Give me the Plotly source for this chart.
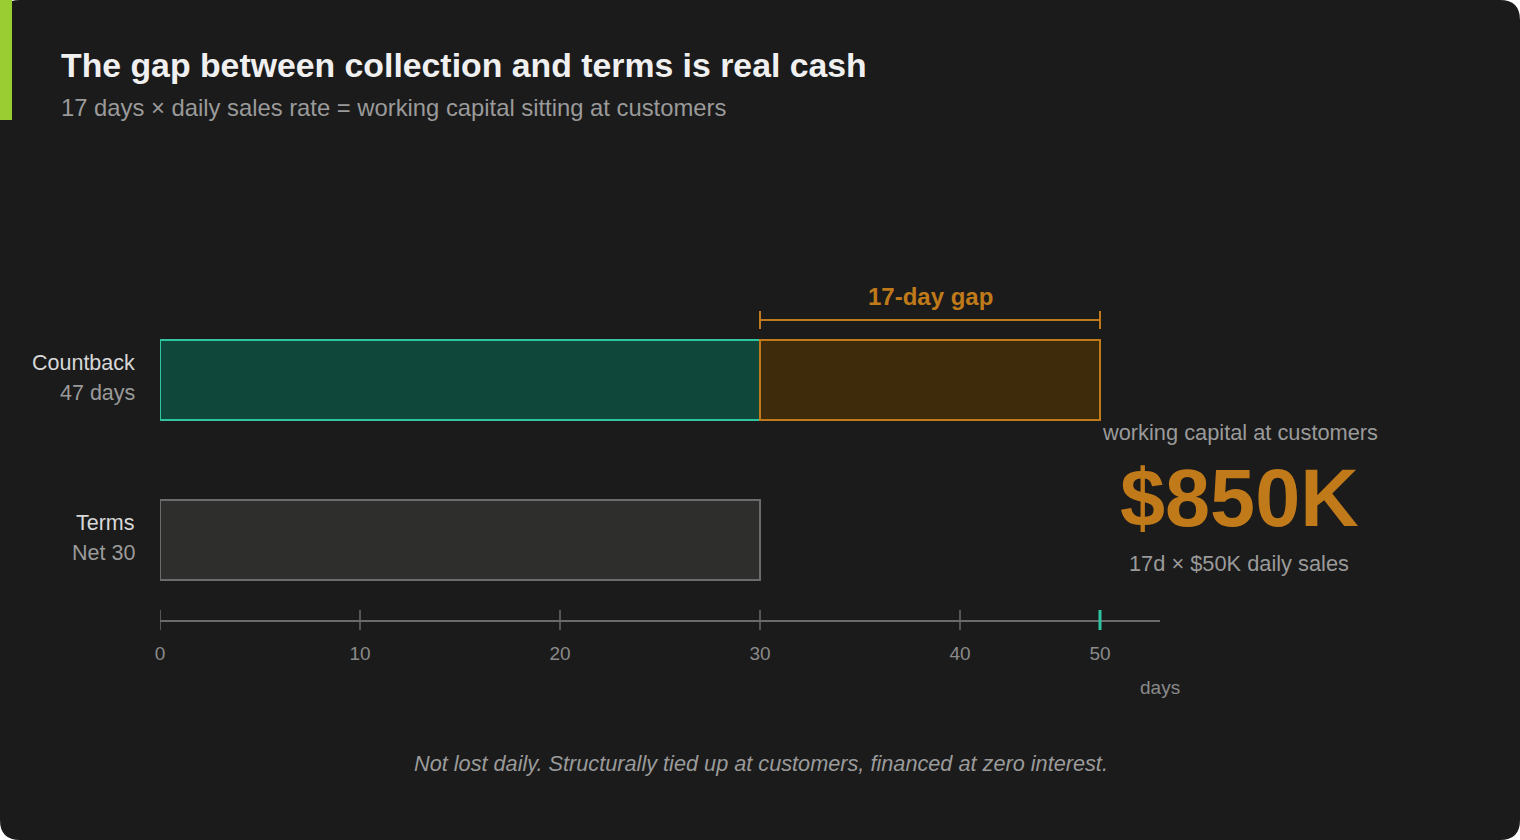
import plotly.graph_objects as go

W, H = 1520, 840

# ---- data ----
categories = ["Countback", "Terms"]
category_sub = ["47 days", "Net 30"]
terms_days = 30
countback_days = 47
gap_days = countback_days - terms_days
x_tick_vals = [0, 10, 20, 30, 40, 47]
x_tick_text = ["0", "10", "20", "30", "40", "50"]
x_range = [0, 50]
wc_value = "$850K"
wc_formula = "17d × $50K daily sales"

FONT = "Liberation Sans, Arial, Helvetica, sans-serif"
BG = "#1b1b1b"
TEAL = "#2ec4a0"
ORANGE = "#c07a1a"
GREY = "#6b6b6b"

def px_x(p):
    return p / W

def px_y(p):
    return 1 - p / H

fig = go.Figure()

# Countback: terms part (teal) + gap part (orange)
fig.add_trace(go.Bar(
    y=[categories[0]], x=[terms_days], base=[0], orientation="h", width=0.5,
    marker=dict(color="#0f473b", line=dict(color=TEAL, width=2)),
    hoverinfo="skip", showlegend=False))
fig.add_trace(go.Bar(
    y=[categories[0]], x=[gap_days], base=[terms_days], orientation="h", width=0.5,
    marker=dict(color="#3d2b0b", line=dict(color=ORANGE, width=2)),
    hoverinfo="skip", showlegend=False))
# Terms
fig.add_trace(go.Bar(
    y=[categories[1]], x=[terms_days], base=[0], orientation="h", width=0.5,
    marker=dict(color="#2e2e2d", line=dict(color=GREY, width=2)),
    hoverinfo="skip", showlegend=False))

shapes = []
# card background with rounded corners
r = 20
x0, x1, y0, y1 = 0, W, 0, H
def P(x, y):
    return f"{px_x(x):.6f},{px_y(y):.6f}"
path = (f"M {P(x0 + r, y0)} L {P(x1 - r, y0)} Q {P(x1, y0)} {P(x1, y0 + r)} "
        f"L {P(x1, y1 - r)} Q {P(x1, y1)} {P(x1 - r, y1)} L {P(x0 + r, y1)} "
        f"Q {P(x0, y1)} {P(x0, y1 - r)} L {P(x0, y0 + r)} Q {P(x0, y0)} {P(x0 + r, y0)} Z")
shapes.append(dict(type="path", xref="paper", yref="paper", path=path,
                   fillcolor=BG, line=dict(width=0), layer="below"))
# accent bar
shapes.append(dict(type="rect", xref="paper", yref="paper",
                   x0=0, x1=px_x(12), y0=px_y(120), y1=px_y(0),
                   fillcolor="#9acd32", line=dict(width=0), layer="below"))
# axis ticks crossing the line
for v in x_tick_vals:
    last = v == x_tick_vals[-1]
    shapes.append(dict(type="line", xref="x", yref="paper", x0=v, x1=v,
                       y0=px_y(610), y1=px_y(630),
                       line=dict(color=TEAL if last else GREY, width=3 if last else 1.5)))
# gap bracket
br_y = px_y(320)
shapes.append(dict(type="line", xref="x", yref="paper", x0=terms_days, x1=countback_days,
                   y0=br_y, y1=br_y, line=dict(color=ORANGE, width=2)))
for v in (terms_days, countback_days):
    shapes.append(dict(type="line", xref="x", yref="paper", x0=v, x1=v,
                       y0=px_y(311), y1=px_y(329), line=dict(color=ORANGE, width=2)))

annotations = []
# title / subtitle
annotations.append(dict(text="<b>The gap between collection and terms is real cash</b>",
                        xref="paper", yref="paper", x=px_x(59), y=px_y(65),
                        xanchor="left", yanchor="middle", showarrow=False,
                        font=dict(family=FONT, size=33.8, color="#f0f0f0")))
annotations.append(dict(text="17 days × daily sales rate = working capital sitting at customers",
                        xref="paper", yref="paper", x=px_x(59), y=px_y(108),
                        xanchor="left", yanchor="middle", showarrow=False,
                        font=dict(family=FONT, size=23.8, color="#9a9a9a")))
# category labels
for cat, sub in zip(categories, category_sub):
    annotations.append(dict(text=cat, xref="paper", yref="y", x=px_x(137), y=cat,
                            yshift=17, xanchor="right", yanchor="middle", showarrow=False,
                            font=dict(family=FONT, size=21.5, color="#d8d8d8")))
    annotations.append(dict(text=sub, xref="paper", yref="y", x=px_x(137), y=cat,
                            yshift=-13, xanchor="right", yanchor="middle", showarrow=False,
                            font=dict(family=FONT, size=21.5, color="#9a9a9a")))
# gap label
annotations.append(dict(text=f"<b>{gap_days}-day gap</b>", xref="x", yref="paper",
                        x=(terms_days + countback_days) / 2, y=px_y(296),
                        xanchor="center", yanchor="middle", showarrow=False,
                        font=dict(family=FONT, size=24, color=ORANGE)))
# right panel
annotations.append(dict(text="working capital at customers", xref="paper", yref="paper",
                        x=px_x(1240), y=px_y(433), xanchor="center", yanchor="middle",
                        showarrow=False, font=dict(family=FONT, size=21.8, color="#9a9a9a")))
annotations.append(dict(text=f"<b>{wc_value}</b>", xref="paper", yref="paper",
                        x=px_x(1239), y=px_y(498), xanchor="center", yanchor="middle",
                        showarrow=False, font=dict(family=FONT, size=81, color=ORANGE)))
annotations.append(dict(text=wc_formula, xref="paper", yref="paper",
                        x=px_x(1239), y=px_y(563), xanchor="center", yanchor="middle",
                        showarrow=False, font=dict(family=FONT, size=21.8, color="#9a9a9a")))
# axis title
annotations.append(dict(text="days", xref="x", yref="paper", x=x_range[1], y=px_y(687),
                        xanchor="center", yanchor="middle", showarrow=False,
                        font=dict(family=FONT, size=19, color="#8a8a8a")))
# footnote
annotations.append(dict(text="<i>Not lost daily. Structurally tied up at customers, financed at zero interest.</i>",
                        xref="paper", yref="paper", x=px_x(761), y=px_y(763),
                        xanchor="center", yanchor="middle", showarrow=False,
                        font=dict(family=FONT, size=21.7, color="#9a9a9a")))

fig.update_layout(
    width=W, height=H,
    margin=dict(l=0, r=0, t=0, b=0),
    paper_bgcolor="#ffffff", plot_bgcolor="rgba(0,0,0,0)",
    barmode="overlay",
    shapes=shapes, annotations=annotations,
    xaxis=dict(domain=[px_x(160), px_x(1160)], range=x_range, showgrid=False,
               zeroline=False, showline=True, linecolor=GREY, linewidth=2,
               tickvals=x_tick_vals, ticktext=x_tick_text, ticks="",
               ticklabelstandoff=15, automargin=False, fixedrange=True,
               tickfont=dict(family=FONT, size=19, color="#8a8a8a"),
               anchor="y"),
    yaxis=dict(domain=[px_y(620), px_y(300)], range=[1.5, -0.5], type="category",
               categoryorder="array", categoryarray=categories,
               showgrid=False, zeroline=False, showline=False, showticklabels=False,
               automargin=False, fixedrange=True),
    font=dict(family=FONT),
)

fig.write_html("out.html", config={"displayModeBar": False},
               post_script="document.body.style.margin='0px';document.body.style.overflow='hidden';")
